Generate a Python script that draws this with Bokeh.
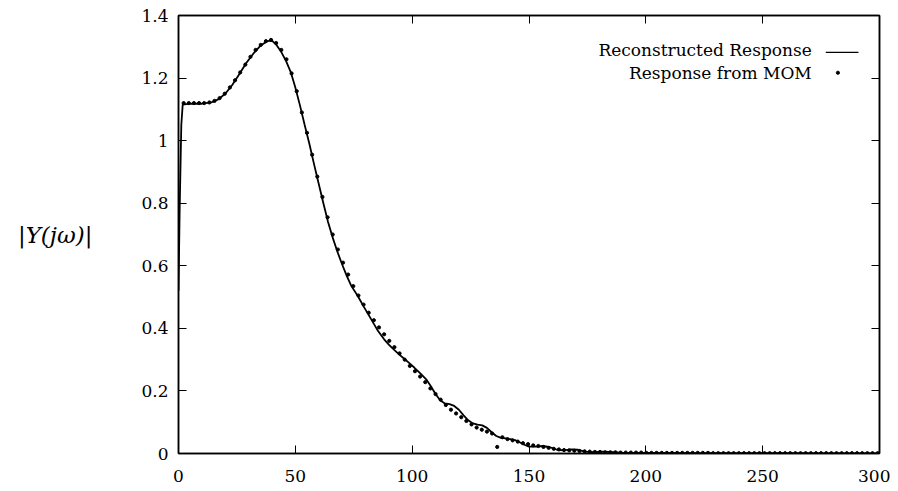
from bokeh.plotting import figure
from bokeh.models import FixedTicker, LinearAxis, Label, CustomJSTickFormatter, Range1d
from bokeh.embed import file_html
from bokeh.resources import INLINE

# Reconstructed response (solid line)
recon_x = [0, 0.5, 1.2, 1.8, 5, 10, 14, 17, 20, 23, 26, 29, 32, 35, 38, 40, 42, 44, 46, 48,
           50, 52, 54, 56, 58, 60, 62, 64, 66, 68, 70, 72, 74, 76.6, 79.4, 82.3, 85.1, 88, 90,
           92.3, 94.5, 96.6, 98.8, 101, 103.5, 106, 108, 110, 112, 114, 116, 118, 120, 122,
           124, 126, 128, 130, 132, 134, 136, 138, 140, 142, 144, 146, 148, 150, 153, 156, 159,
           162, 165, 168, 171, 174, 178, 182, 186, 190, 200, 220, 250, 300]
recon_y = [0.52, 0.78, 1.05, 1.115, 1.118, 1.118, 1.122, 1.132, 1.15, 1.178, 1.212, 1.248,
           1.278, 1.303, 1.318, 1.32, 1.305, 1.283, 1.255, 1.22, 1.17, 1.112, 1.05, 0.99,
           0.925, 0.862, 0.8, 0.74, 0.69, 0.645, 0.605, 0.568, 0.535, 0.505, 0.468, 0.431,
           0.395, 0.365, 0.348, 0.331, 0.316, 0.303, 0.289, 0.274, 0.256, 0.237, 0.215, 0.19,
           0.17, 0.16, 0.158, 0.152, 0.14, 0.122, 0.106, 0.096, 0.092, 0.09, 0.082, 0.068,
           0.056, 0.05, 0.048, 0.046, 0.043, 0.036, 0.028, 0.022, 0.022, 0.024, 0.02, 0.012,
           0.01, 0.013, 0.012, 0.006, 0.004, 0.006, 0.004, 0.002, 0.002, 0.001, 0.001, 0.0]

# Response from MOM (dots)
mom_x = [2.2, 4.4, 6.6, 8.8, 11, 13.2, 15.4, 17.6, 19.8, 22, 24.2, 26.4, 28.6, 30.8, 33, 35.2,
         37.4, 39.6, 41.8, 44, 46.2, 48.4, 50.6, 52.8, 55, 57.2, 59.4, 61.6, 63.8, 66, 68.2,
         70.4, 72.6, 74.8, 77, 79.2, 81.4, 83.6, 85.8, 88, 90.2, 92.4, 94.6, 96.8, 99, 101.2,
         103.4, 105.6, 107.8, 110, 112.2, 114.4, 116.6, 118.8, 121, 123.2, 125.4, 127.6,
         129.8, 132, 134.2, 136.4, 138.6, 140.8, 143, 145.2, 147.4, 149.6, 151.8, 154, 156.2,
         158.4, 160.6, 162.8, 165, 167.2, 169.4, 171.6, 173.8, 176, 178.2, 180.4, 182.6, 184.8,
         187, 189.2, 191.4, 193.6, 195.8, 198, 200.2, 202.4, 204.6, 206.8, 209, 211.2, 213.4,
         215.6, 217.8, 220, 222.2, 224.4, 226.6, 228.8, 231, 233.2, 235.4, 237.6, 239.8, 242,
         244.2, 246.4, 248.6, 250.8, 253, 255.2, 257.4, 259.6, 261.8, 264, 266.2, 268.4, 270.6,
         272.8, 275, 277.2, 279.4, 281.6, 283.8, 286, 288.2, 290.4, 292.6, 294.8, 297, 299.2]
mom_y = [1.12, 1.12, 1.12, 1.12, 1.12, 1.122, 1.127, 1.136, 1.15, 1.17, 1.193, 1.218, 1.243,
         1.268, 1.29, 1.306, 1.318, 1.322, 1.312, 1.29, 1.26, 1.215, 1.158, 1.09, 1.025, 0.955,
         0.885, 0.82, 0.755, 0.7, 0.652, 0.61, 0.572, 0.535, 0.505, 0.476, 0.45, 0.426, 0.403,
         0.381, 0.36, 0.34, 0.32, 0.3, 0.28, 0.263, 0.246, 0.228, 0.208, 0.19, 0.172, 0.155,
         0.14, 0.128, 0.116, 0.104, 0.093, 0.083, 0.076, 0.07, 0.064, 0.021, 0.052, 0.046,
         0.042, 0.038, 0.033, 0.03, 0.026, 0.024, 0.021, 0.018, 0.015, 0.013, 0.011, 0.01,
         0.009, 0.008, 0.007, 0.006, 0.005, 0.005, 0.004, 0.004, 0.004, 0.003, 0.003, 0.003,
         0.003, 0.003, 0.002, 0.002, 0.002, 0.002, 0.002, 0.002, 0.002, 0.002, 0.002, 0.002,
         0.002, 0.002, 0.002, 0.001, 0.001, 0.001, 0.001, 0.001, 0.001, 0.001, 0.001, 0.001,
         0.001, 0.001, 0.001, 0.001, 0.001, 0.001, 0.001, 0.001, 0.001, 0.001, 0.001, 0.001,
         0.001, 0.001, 0.001, 0.001, 0.001, 0.001, 0.001, 0.001, 0.001, 0.001, 0.001, 0.001,
         0.001]

x_ticks = [0, 50, 100, 150, 200, 250, 300]
y_ticks = [0, 0.2, 0.4, 0.6, 0.8, 1, 1.2, 1.4]

legend_labels = ["Reconstructed Response", "Response from MOM"]
y_label = "|Y(jω)|"

FONT = "DejaVu Serif"

p = figure(width=890, height=488, output_backend="svg", toolbar_location=None,
           x_range=Range1d(0, 300), y_range=Range1d(0, 1.4),
           min_border_left=178, min_border_right=11, min_border_top=15, min_border_bottom=35,
           background_fill_color="white", border_fill_color="white")
p.grid.visible = False
p.outline_line_color = "black"
p.outline_line_width = 1.5

fmt = CustomJSTickFormatter(code="return tick.toString();")
blank = CustomJSTickFormatter(code="return '';")

for ax in (p.xaxis[0], p.yaxis[0]):
    ax.major_tick_in = 8
    ax.major_tick_out = 0
    ax.minor_tick_in = 0
    ax.minor_tick_out = 0
    ax.axis_line_color = "black"
    ax.axis_line_width = 1.5
    ax.major_tick_line_color = "black"
    ax.major_tick_line_width = 1
    ax.major_label_text_font = FONT
    ax.major_label_text_font_size = "17px"
    ax.major_label_text_color = "black"
    ax.formatter = fmt

p.xaxis[0].ticker = FixedTicker(ticks=x_ticks)
p.yaxis[0].ticker = FixedTicker(ticks=y_ticks)
p.xaxis[0].major_label_standoff = 16
p.yaxis[0].major_label_standoff = 10

p.yaxis[0].axis_label = y_label
p.yaxis[0].axis_label_orientation = "horizontal"
p.yaxis[0].axis_label_text_font = FONT
p.yaxis[0].axis_label_text_font_style = "italic"
p.yaxis[0].axis_label_text_font_size = "23px"
p.yaxis[0].axis_label_text_color = "black"
p.yaxis[0].axis_label_standoff = 46

# mirrored ticks on top and right
top_ax = LinearAxis(ticker=FixedTicker(ticks=x_ticks), formatter=blank, major_tick_in=8,
                    major_tick_out=0, minor_tick_in=0, minor_tick_out=0,
                    axis_line_width=1.5, major_label_standoff=0)
right_ax = LinearAxis(ticker=FixedTicker(ticks=y_ticks), formatter=blank, major_tick_in=8,
                      major_tick_out=0, minor_tick_in=0, minor_tick_out=0,
                      axis_line_width=1.5, major_label_standoff=0)
p.add_layout(top_ax, "above")
p.add_layout(right_ax, "right")

p.line(recon_x, recon_y, line_color="black", line_width=1.8)
p.scatter(mom_x, mom_y, size=3.2, color="black")

# legend (text left, sample right, as in the original)
leg_x_text = 271
leg_y = [1.29, 1.217]
p.add_layout(Label(x=leg_x_text, y=leg_y[0], text=legend_labels[0], text_align="right",
                   text_baseline="middle", text_font=FONT, text_font_size="17px",
                   text_color="black"))
p.add_layout(Label(x=leg_x_text, y=leg_y[1], text=legend_labels[1], text_align="right",
                   text_baseline="middle", text_font=FONT, text_font_size="17px",
                   text_color="black"))
p.line([277, 291], [leg_y[0] - 0.008, leg_y[0] - 0.008], line_color="black", line_width=1.3)
p.scatter([282.2], [leg_y[1]], size=3.2, color="black")

open("out.html", "w").write(file_html(p, INLINE))
